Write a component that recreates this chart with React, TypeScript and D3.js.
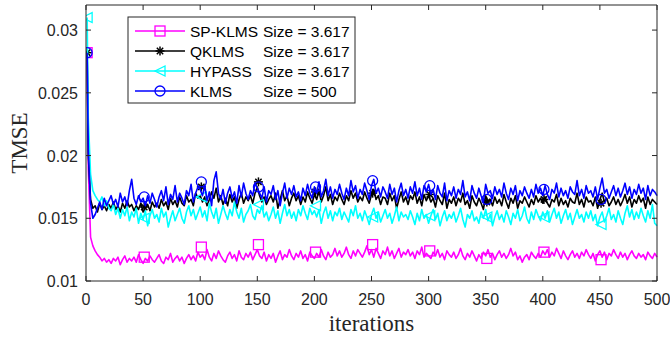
import React from "react";
import * as d3 from "d3";

// values in units of 1e-4; first value at iteration 1, then iterations 2,4,...,500
const START_KLMS = 282;
const START_QKLMS = 282;
const START_HYPASS = 310;
const START_SPKLMS = 282;

const klms = [
  205,162,150,153,158,163,157,166,160,164,
  168,161,165,159,170,163,167,160,172,181,
  166,161,168,163,166,160,168,162,170,165,
  159,167,172,164,175,161,169,165,176,163,
  170,166,161,172,168,177,163,170,175,173,
  168,176,164,171,160,180,187,170,165,173,
  162,170,175,166,171,162,176,167,178,170,
  165,172,168,178,174,170,166,175,163,172,
  169,176,165,172,160,170,178,166,174,169,
  176,167,171,164,174,168,177,170,166,175,
  170,179,167,172,181,168,175,166,173,169,
  177,170,165,174,168,180,171,176,166,173,
  169,178,172,165,176,181,170,174,167,175,
  171,166,177,169,174,163,172,178,168,173,
  166,175,170,179,168,174,165,176,171,177,
  169,173,165,176,170,167,178,164,172,168,
  175,166,173,169,180,167,171,164,176,170,
  166,174,168,163,177,170,172,166,175,169,
  173,167,178,170,165,174,169,176,164,172,
  168,175,170,166,173,167,177,170,174,168,
  176,169,165,173,170,178,167,174,168,172,
  166,175,171,169,180,168,173,166,176,170,
  172,167,175,165,174,182,170,173,166,171,
  176,168,174,167,172,178,169,175,166,173,
  169,177,170,174,165,176,168,173,171,168,
];

const qklms = [
  200,165,158,160,155,162,157,160,156,161,
  158,163,157,160,155,162,158,164,159,161,
  156,160,157,162,155,158,161,156,163,159,
  162,158,165,160,163,157,166,161,164,159,
  167,162,160,168,163,165,160,170,166,168,
  163,167,160,165,171,166,174,163,168,161,
  166,160,169,163,167,158,165,170,162,167,
  164,168,162,170,175,168,163,167,161,165,
  168,163,170,158,165,172,164,168,160,166,
  170,164,168,161,167,163,171,166,162,169,
  165,172,163,168,175,164,169,161,167,164,
  170,165,161,168,164,172,166,170,163,167,
  164,171,166,162,169,173,165,168,161,167,
  166,161,170,164,168,158,165,171,163,167,
  161,168,165,171,162,167,160,169,164,168,
  163,166,159,168,164,161,170,158,165,162,
  167,160,166,163,170,161,164,158,168,163,
  160,166,162,157,168,163,165,160,167,162,
  165,160,169,163,158,166,162,168,158,164,
  162,167,163,159,165,161,168,163,166,162,
  167,162,159,165,163,169,160,166,161,164,
  159,166,163,162,170,161,165,159,167,163,
  164,160,167,158,165,170,163,166,160,163,
  167,161,165,160,164,169,162,167,159,165,
  162,168,163,166,158,167,161,165,163,161,
];

const hypass = [
  230,185,172,168,165,163,167,160,164,158,
  156,161,153,158,150,157,152,159,148,155,
  151,158,146,154,149,156,144,152,157,150,
  153,147,158,151,155,143,150,156,148,153,
  158,150,146,155,160,152,157,149,154,159,
  151,156,148,162,155,150,158,146,153,160,
  154,149,157,152,163,155,150,158,147,153,
  156,161,152,149,157,154,160,151,155,148,
  153,159,150,156,146,154,161,152,157,150,
  155,148,157,152,160,154,149,158,153,156,
  151,157,146,154,159,150,156,148,155,152,
  158,149,155,151,147,157,152,160,150,154,
  148,156,151,145,153,158,150,155,147,152,
  157,150,154,146,152,159,148,155,151,153,
  149,156,151,145,154,148,157,150,153,146,
  152,157,149,154,144,151,156,148,153,150,
  155,147,152,158,149,143,153,150,156,148,
  151,146,155,150,157,148,153,144,151,156,
  149,153,147,156,151,145,154,150,157,148,
  152,159,150,146,155,149,157,152,148,155,
  150,156,147,153,158,150,155,146,152,157,
  149,154,145,151,157,150,153,147,155,150,
  156,148,153,144,151,155,147,152,158,149,
  153,147,156,150,145,154,160,151,157,149,
  155,150,158,152,147,156,150,161,146,144,
];

const spklms = [
  190,135,128,124,121,119,116,118,115,117,
  114,118,116,119,113,117,120,115,118,116,
  119,115,121,117,114,118,116,120,117,115,
  118,121,116,114,119,117,122,115,118,120,
  116,119,114,118,121,117,120,116,123,119,
  121,117,125,119,116,122,118,124,120,117,
  115,120,123,118,121,116,124,119,117,122,
  119,123,117,121,125,120,118,123,116,121,
  118,122,115,120,124,117,121,119,125,120,
  117,122,119,124,118,121,116,123,120,118,
  122,119,125,120,117,123,119,121,126,120,
  124,119,122,127,121,118,124,120,125,122,
  119,123,128,121,125,119,126,122,118,124,
  121,127,120,124,118,122,126,119,123,121,
  125,120,123,118,124,121,127,119,122,120,
  118,123,120,125,119,122,117,124,121,119,
  123,118,121,126,120,117,122,119,124,120,
  116,121,118,123,120,125,119,122,117,121,
  124,119,122,118,121,126,120,123,117,120,
  115,119,121,117,123,120,118,122,119,124,
  121,125,119,123,120,126,122,118,124,120,
  117,121,124,119,122,118,123,120,125,121,
  118,122,116,121,124,119,123,117,122,120,
  125,121,118,123,119,122,117,121,124,120,
  118,122,119,121,117,123,120,118,122,119,
];

// marker values at iterations 1, 51, 101, ..., 451 (units of 1e-4)
const markerIters = [1, 51, 101, 151, 201, 251, 301, 351, 401, 451];
const spklmsMarks = [282, 119, 127, 129, 123, 129, 124, 118, 123, 117];
const qklmsMarks = [282, 159, 175, 179, 171, 170, 169, 163, 165, 162];
const hypassMarks = [310, 150, 167, 161, 160, 151, 152, 151, 151, 145];
const klmsMarks = [282, 167, 179, 175, 175, 180, 176, 165, 173, 165];

const xTicks = [0, 50, 100, 150, 200, 250, 300, 350, 400, 450, 500];
const yTicks = [0.01, 0.015, 0.02, 0.025, 0.03];

const legendNames = ["SP-KLMS", "QKLMS", "HYPASS", "KLMS"];
const legendSizes = ["Size = 3.617", "Size = 3.617", "Size = 3.617", "Size = 500"];

const W = 670, H = 343;
const L = 86, R = 657, T = 5, B = 281;
const AX = "#262626";
const SANS = "'Liberation Sans', Arial, Helvetica, sans-serif";
const SERIF = "'Liberation Serif', 'Times New Roman', serif";

function buildSeries(start: number, vals: number[]) {
  const pts: [number, number][] = [[1, start * 1e-4]];
  vals.forEach((v, i) => pts.push([2 + 2 * i, v * 1e-4]));
  return pts;
}

type MarkerKind = "square" | "star" | "triangle" | "circle";

function Marker({ kind, cx, cy, color }: { kind: MarkerKind; cx: number; cy: number; color: string }) {
  const s = 5;
  const sw = 1.3;
  if (kind === "square")
    return <rect x={cx - s} y={cy - s} width={2 * s} height={2 * s} fill="none" stroke={color} strokeWidth={sw} />;
  if (kind === "circle")
    return <circle cx={cx} cy={cy} r={s} fill="none" stroke={color} strokeWidth={sw} />;
  if (kind === "triangle")
    return (
      <polygon
        points={`${cx - s},${cy} ${cx + s},${cy - s} ${cx + s},${cy + s}`}
        fill="none"
        stroke={color}
        strokeWidth={sw}
      />
    );
  const a = 4.5;
  const d = a * 0.707;
  return (
    <g stroke={color} strokeWidth={1.5}>
      <line x1={cx - a} y1={cy} x2={cx + a} y2={cy} />
      <line x1={cx} y1={cy - a} x2={cx} y2={cy + a} />
      <line x1={cx - d} y1={cy - d} x2={cx + d} y2={cy + d} />
      <line x1={cx - d} y1={cy + d} x2={cx + d} y2={cy - d} />
    </g>
  );
}

export default function App() {
  const x = d3.scaleLinear().domain([0, 500]).range([L, R]);
  const y = d3.scaleLinear().domain([0.01, 0.032]).range([B, T]);
  const line = d3
    .line<[number, number]>()
    .x((d) => x(d[0]))
    .y((d) => y(d[1]));

  const series: { name: string; color: string; kind: MarkerKind; start: number; vals: number[]; marks: number[] }[] = [
    { name: "SP-KLMS", color: "#ff00ff", kind: "square", start: START_SPKLMS, vals: spklms, marks: spklmsMarks },
    { name: "QKLMS", color: "#000000", kind: "star", start: START_QKLMS, vals: qklms, marks: qklmsMarks },
    { name: "HYPASS", color: "#00ffff", kind: "triangle", start: START_HYPASS, vals: hypass, marks: hypassMarks },
    { name: "KLMS", color: "#0000ff", kind: "circle", start: START_KLMS, vals: klms, marks: klmsMarks },
  ];

  const legX = 128, legY = 17, legW = 227, legH = 86;
  const rowY = (i: number) => 31 + i * 20;

  return (
    <svg width={W} height={H} style={{ position: "absolute", left: 0, top: 0, background: "#fff" }}>
      <rect x={0} y={0} width={W} height={H} fill="#fff" />
      <defs>
        <clipPath id="plotclip">
          <rect x={L} y={T - 10} width={R - L + 6} height={B - T + 10} />
        </clipPath>
      </defs>
      <g clipPath="url(#plotclip)">
        {series.map((s) => (
          <g key={s.name}>
            <path d={line(buildSeries(s.start, s.vals)) || ""} fill="none" stroke={s.color} strokeWidth={1.6} strokeLinejoin="round" />
            {s.marks.map((m, i) => (
              <Marker key={i} kind={s.kind} cx={x(markerIters[i])} cy={y(m * 1e-4)} color={s.color} />
            ))}
          </g>
        ))}
      </g>
      <g stroke={AX} strokeWidth={1} fill="none">
        <line x1={L} y1={B} x2={R} y2={B} />
        <line x1={L} y1={T} x2={R} y2={T} />
        <line x1={L} y1={T} x2={L} y2={B} />
        <line x1={R} y1={T} x2={R} y2={B} />
        {xTicks.map((t) => (
          <g key={"xt" + t}>
            <line x1={x(t)} y1={B} x2={x(t)} y2={B - 5} />
            <line x1={x(t)} y1={T} x2={x(t)} y2={T + 5} />
          </g>
        ))}
        {yTicks.map((t) => (
          <g key={"yt" + t}>
            <line x1={L} y1={y(t)} x2={L + 5} y2={y(t)} />
            <line x1={R} y1={y(t)} x2={R - 5} y2={y(t)} />
          </g>
        ))}
      </g>
      <g fill={AX} fontFamily={SANS} fontSize={16}>
        {xTicks.map((t) => (
          <text key={"xl" + t} x={x(t)} y={B + 24} textAnchor="middle">
            {t}
          </text>
        ))}
        {yTicks.map((t) => (
          <text key={"yl" + t} x={L - 8} y={y(t) + 6} textAnchor="end">
            {String(t)}
          </text>
        ))}
      </g>
      <text x={(L + R) / 2} y={331} textAnchor="middle" fontFamily={SERIF} fontSize={23} fill={AX}>
        iterations
      </text>
      <text
        transform={`translate(27, ${(T + B) / 2}) rotate(-90)`}
        textAnchor="middle"
        fontFamily={SERIF}
        fontSize={23}
        fill={AX}
      >
        TMSE
      </text>
      <rect x={legX} y={legY} width={legW} height={legH} fill="#fff" stroke={AX} strokeWidth={1} />
      {series.map((s, i) => (
        <g key={"leg" + s.name}>
          <line x1={135} y1={rowY(i)} x2={185} y2={rowY(i)} stroke={s.color} strokeWidth={1.6} />
          <Marker kind={s.kind} cx={160} cy={rowY(i)} color={s.color} />
          <text x={190} y={rowY(i) + 5.5} fontFamily={SANS} fontSize={15.5} fill="#000">
            {legendNames[i]}
          </text>
          <text x={263} y={rowY(i) + 5.5} fontFamily={SANS} fontSize={15.5} fill="#000">
            {legendSizes[i]}
          </text>
        </g>
      ))}
    </svg>
  );
}
